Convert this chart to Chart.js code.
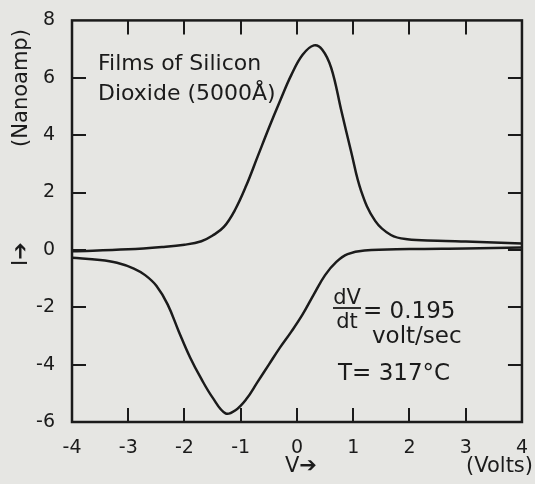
<!DOCTYPE html>
<html>
<head>
<meta charset="utf-8">
<title>Current-voltage sweep, silicon dioxide film</title>
<script src="https://cdn.jsdelivr.net/npm/chart.js@4/dist/chart.umd.min.js"></script>
<style>
  html, body { margin: 0; padding: 0; background: #e6e6e3; }
  canvas { display: block; }
</style>
</head>
<body>
<canvas id="ivChart" width="535" height="484"></canvas>
<script>
// forward sweep (upper branch), volts / nanoamps
const voltsUp = [-4, -3, -2.4, -2.0, -1.7, -1.5, -1.3, -1.1, -0.9, -0.7, -0.5, -0.3, -0.1, 0.1, 0.3, 0.45, 0.61, 0.79, 0.96, 1.14, 1.39, 1.67, 1.96, 2.5, 3, 3.5, 4];
const ampsUp  = [-0.05, 0.02, 0.1, 0.18, 0.3, 0.5, 0.8, 1.4, 2.25, 3.25, 4.25, 5.2, 6.1, 6.8, 7.13, 6.98, 6.34, 4.84, 3.45, 2.06, 1.01, 0.52, 0.37, 0.32, 0.29, 0.26, 0.22];

// reverse sweep (lower branch)
const voltsDown = [-4, -3.5, -3.2, -2.9, -2.7, -2.5, -2.3, -2.1, -1.9, -1.7, -1.5, -1.27, -1.1, -0.9, -0.7, -0.5, -0.3, -0.1, 0.1, 0.3, 0.5, 0.7, 0.9, 1.2, 2, 3, 4];
const ampsDown  = [-0.27, -0.35, -0.45, -0.65, -0.88, -1.25, -1.9, -2.85, -3.75, -4.5, -5.15, -5.7, -5.6, -5.2, -4.6, -4.0, -3.4, -2.85, -2.25, -1.55, -0.88, -0.42, -0.15, -0.02, 0.03, 0.05, 0.08];

const voltRange = [-4, 4];
const ampRange = [-6, 8];

const ink = '#1b1b1b';
const face = 'DejaVu Sans';
const tickLen = 14;

const toPoints = (xs, ys) => xs.map((v, i) => ({ x: v, y: ys[i] }));

// box around the plot with inward tick marks on all four sides
const frameTicks = {
  id: 'frameTicks',
  afterDatasetsDraw(chart) {
    const { ctx, chartArea: a, scales: { x, y } } = chart;
    ctx.save();
    ctx.strokeStyle = ink;
    ctx.lineWidth = 2.5;
    ctx.strokeRect(a.left, a.top, a.right - a.left, a.bottom - a.top);
    ctx.lineWidth = 2;
    ctx.beginPath();
    x.ticks.forEach(t => {
      if (t.value <= x.min || t.value >= x.max) return;
      const px = Math.round(x.getPixelForValue(t.value));
      ctx.moveTo(px, a.bottom); ctx.lineTo(px, a.bottom - tickLen);
      ctx.moveTo(px, a.top); ctx.lineTo(px, a.top + tickLen);
    });
    y.ticks.forEach(t => {
      if (t.value <= y.min || t.value >= y.max) return;
      const py = Math.round(y.getPixelForValue(t.value));
      ctx.moveTo(a.left, py); ctx.lineTo(a.left + tickLen, py);
      ctx.moveTo(a.right, py); ctx.lineTo(a.right - tickLen, py);
    });
    ctx.stroke();
    ctx.restore();
  }
};

// axis captions and the notes written inside the plot
const notes = {
  id: 'notes',
  afterDraw(chart) {
    const { ctx } = chart;
    ctx.save();
    ctx.fillStyle = ink;
    ctx.strokeStyle = ink;
    ctx.textBaseline = 'alphabetic';
    ctx.textAlign = 'left';

    ctx.font = `22px "${face}"`;
    ctx.fillText('Films of Silicon', 98, 70);
    ctx.fillText('Dioxide (5000Å)', 98, 100);

    // dV/dt = 0.195 volt/sec
    ctx.font = `21px "${face}"`;
    ctx.textAlign = 'center';
    ctx.fillText('dV', 347, 304);
    ctx.fillText('dt', 347, 328);
    ctx.lineWidth = 1.8;
    ctx.beginPath();
    ctx.moveTo(333, 308); ctx.lineTo(361, 308);
    ctx.stroke();
    ctx.textAlign = 'left';
    ctx.font = `23px "${face}"`;
    ctx.fillText('= 0.195', 363, 318);
    ctx.fillText('volt/sec', 372, 343);
    ctx.fillText('T= 317°C', 338, 380);

    // x caption
    ctx.font = `21px "${face}"`;
    ctx.fillText('V➔', 285, 472);
    ctx.textAlign = 'right';
    ctx.fillText('(Volts)', 533, 472);

    // y caption, rotated
    ctx.save();
    ctx.translate(22, 88);
    ctx.rotate(-Math.PI / 2);
    ctx.textAlign = 'center';
    ctx.textBaseline = 'middle';
    ctx.font = `21px "${face}"`;
    ctx.fillText('(Nanoamp)', 0, 0);
    ctx.restore();

    ctx.save();
    ctx.translate(22, 266);
    ctx.rotate(-Math.PI / 2);
    ctx.textAlign = 'left';
    ctx.textBaseline = 'middle';
    ctx.font = `21px "${face}"`;
    ctx.fillText('I➔', 0, 0);
    ctx.restore();

    ctx.restore();
  }
};

new Chart(document.getElementById('ivChart'), {
  type: 'scatter',
  data: {
    datasets: [
      { label: 'forward', data: toPoints(voltsUp, ampsUp) },
      { label: 'reverse', data: toPoints(voltsDown, ampsDown) }
    ]
  },
  options: {
    responsive: false,
    animation: false,
    devicePixelRatio: 1,
    showLine: true,
    layout: { padding: { top: 20, right: 9, left: 0, bottom: 0 } },
    elements: {
      point: { radius: 0, hoverRadius: 0 },
      line: { borderColor: ink, borderWidth: 2.5, tension: 0.4, fill: false }
    },
    plugins: { legend: { display: false }, tooltip: { enabled: false } },
    scales: {
      x: {
        type: 'linear',
        min: voltRange[0], max: voltRange[1],
        grid: { display: false },
        border: { display: false },
        ticks: { stepSize: 1, padding: 7, color: ink, font: { family: face, size: 19 }, maxRotation: 0 },
        afterFit: s => { s.height = 62; }
      },
      y: {
        type: 'linear',
        min: ampRange[0], max: ampRange[1],
        grid: { display: false },
        border: { display: false },
        ticks: { stepSize: 2, padding: 9, color: ink, font: { family: face, size: 19 } },
        afterFit: s => { s.width = 72; }
      }
    }
  },
  plugins: [frameTicks, notes]
});
</script>
</body>
</html>
